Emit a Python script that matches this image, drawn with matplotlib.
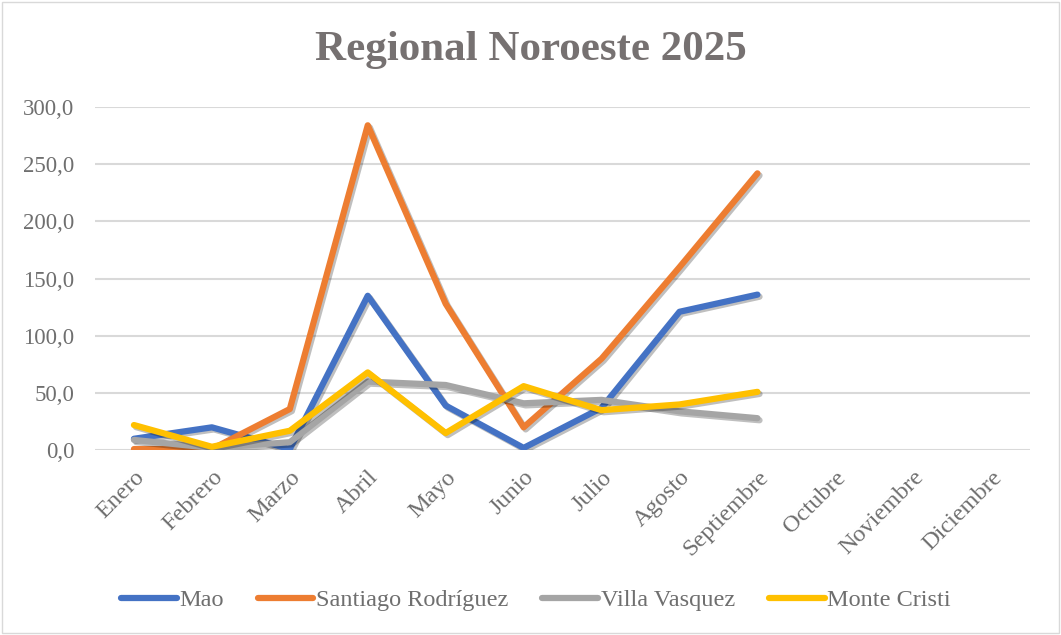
import numpy as np
import matplotlib
matplotlib.use('Agg')
from matplotlib import pyplot as plt
import matplotlib.patheffects as pe
from matplotlib.ticker import FuncFormatter

meses = ['Enero', 'Febrero', 'Marzo', 'Abril', 'Mayo', 'Junio', 'Julio',
         'Agosto', 'Septiembre', 'Octubre', 'Noviembre', 'Diciembre']
mao = [10, 20, 1, 135, 39, 2, 37, 121, 136]
santiago = [1, 1, 36, 284, 128, 20, 80, 160, 242]
villa = [9, 2, 7, 60, 57, 41, 44, 34, 28]
monte = [22, 3, 17, 68, 15, 56, 35, 40, 51]

series = [('Mao', mao, '#4472c4'),
          ('Santiago Rodríguez', santiago, '#ed7d31'),
          ('Villa Vasquez', villa, '#a5a5a5'),
          ('Monte Cristi', monte, '#ffc000')]

plt.rcParams['font.family'] = ['Liberation Serif', 'DejaVu Serif']
txt = '#6f6f6f'

fig = plt.figure(figsize=(10.61, 6.35), dpi=100)
ax = fig.add_axes([0.0895, 0.291, 0.8815, 0.5405])

shadow = [pe.SimpleLineShadow(offset=(1.5, -1.5), alpha=0.25, rho=0.4), pe.Normal()]
for name, vals, col in series:
    ax.plot(np.arange(len(vals)), vals, color=col, lw=4.5, label=name,
            solid_capstyle='round', solid_joinstyle='round', path_effects=shadow)

ax.set_xlim(-0.5, len(meses) - 0.5)
ax.set_ylim(0, 300)
ax.set_yticks(np.arange(0, 301, 50))
ax.yaxis.set_major_formatter(FuncFormatter(lambda v, p: f'{v:.1f}'.replace('.', ',')))
ax.set_xticks(np.arange(len(meses)))
ax.set_xticklabels(meses, rotation=45, ha='right', rotation_mode='anchor')
ax.tick_params(length=0, colors=txt)
ax.tick_params(axis='y', labelsize=16.5, pad=15)
ax.tick_params(axis='x', labelsize=17.5, pad=12)
ax.grid(axis='y', color='#d9d9d9', lw=1.5)
ax.set_axisbelow(True)
for s in ax.spines.values():
    s.set_visible(False)

fig.text(0.5, 0.921, 'Regional Noroeste 2025', ha='center', va='center',
         fontsize=31, fontweight='bold', color='#767171')

leg = fig.legend(loc='center', bbox_to_anchor=(0.505, 0.055), ncol=4, frameon=False,
                 fontsize=17.5, labelcolor=txt, handlelength=2.3, handletextpad=0.1,
                 columnspacing=1.4)
for h in leg.get_lines():
    h.set_linewidth(4.5)
    h.set_path_effects([])

fig.patches.append(plt.Rectangle((0.002, 0.003), 0.996, 0.994, transform=fig.transFigure,
                                 fill=False, edgecolor='#d9d9d9', lw=1))
fig.savefig('out.png', dpi=100)
